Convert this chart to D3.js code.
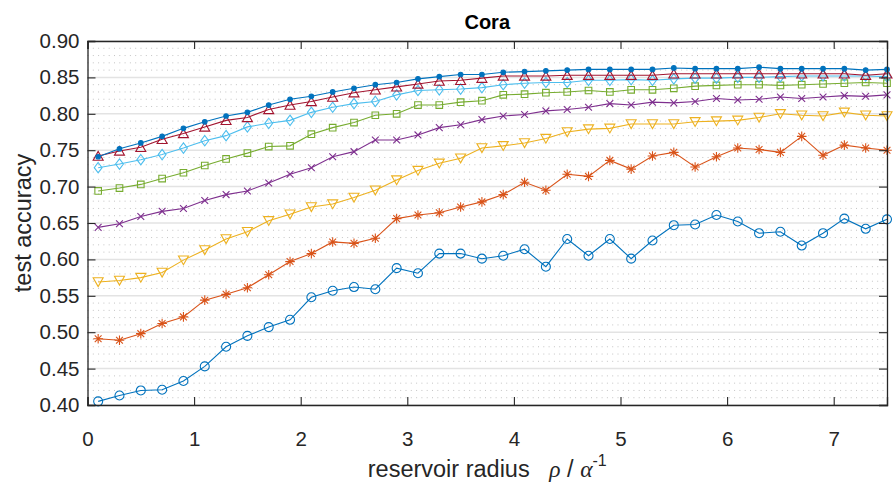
<!DOCTYPE html>
<html>
<head>
<meta charset="utf-8">
<script src="https://cdn.jsdelivr.net/npm/d3@7"></script>
<style>
  body { margin: 0; background: #fff; }
  svg { display: block; font-family: 'Liberation Sans', Arial, sans-serif; }
  .tick-label { font-size: 20.5px; fill: #262626; }
  .axis-label { font-size: 23.5px; fill: #262626; }
  .title { font-size: 20px; font-weight: bold; fill: #000; }
</style>
</head>
<body>
<svg width="895" height="485"></svg>
<script>
'use strict';

// x positions (reservoir radius)
const radius = [0.1, 0.3, 0.5, 0.7, 0.9, 1.1, 1.3, 1.5, 1.7, 1.9,
  2.1, 2.3, 2.5, 2.7, 2.9, 3.1, 3.3, 3.5, 3.7,
  3.9, 4.1, 4.3, 4.5, 4.7, 4.9, 5.1, 5.3, 5.5,
  5.7, 5.9, 6.1, 6.3, 6.5, 6.7, 6.9, 7.1, 7.3, 7.5];

const accCircle = [0.405, 0.413, 0.420, 0.421, 0.433, 0.453, 0.480, 0.495, 0.507, 0.517,
  0.548, 0.557, 0.562, 0.559, 0.588, 0.581, 0.608, 0.608, 0.601,
  0.605, 0.614, 0.590, 0.628, 0.605, 0.628, 0.601, 0.626, 0.647,
  0.648, 0.661, 0.652, 0.636, 0.638, 0.619, 0.636, 0.656, 0.642, 0.655];

const accStar = [0.491, 0.489, 0.498, 0.512, 0.521, 0.544, 0.552, 0.561, 0.579, 0.597,
  0.608, 0.624, 0.622, 0.629, 0.656, 0.661, 0.664, 0.672, 0.679,
  0.689, 0.706, 0.695, 0.717, 0.714, 0.736, 0.724, 0.742, 0.747,
  0.727, 0.741, 0.753, 0.751, 0.747, 0.769, 0.743, 0.757, 0.753, 0.750];

const accTriDown = [0.569, 0.571, 0.575, 0.582, 0.599, 0.613, 0.628, 0.638, 0.653, 0.662,
  0.672, 0.676, 0.685, 0.695, 0.709, 0.722, 0.732, 0.739, 0.753,
  0.756, 0.760, 0.766, 0.775, 0.779, 0.780, 0.786, 0.786, 0.786,
  0.789, 0.790, 0.791, 0.795, 0.800, 0.798, 0.797, 0.802, 0.798, 0.797];

const accCross = [0.644, 0.649, 0.659, 0.666, 0.670, 0.681, 0.689, 0.694, 0.705, 0.717,
  0.726, 0.741, 0.748, 0.764, 0.764, 0.771, 0.781, 0.785, 0.792,
  0.797, 0.799, 0.804, 0.806, 0.809, 0.814, 0.812, 0.816, 0.815,
  0.817, 0.821, 0.819, 0.820, 0.823, 0.821, 0.823, 0.825, 0.824, 0.826];

const accSquare = [0.694, 0.698, 0.703, 0.711, 0.719, 0.729, 0.738, 0.746, 0.755, 0.756,
  0.772, 0.781, 0.788, 0.798, 0.800, 0.812, 0.812, 0.816, 0.818,
  0.826, 0.827, 0.829, 0.830, 0.832, 0.830, 0.833, 0.833, 0.835,
  0.838, 0.839, 0.840, 0.840, 0.839, 0.840, 0.841, 0.842, 0.843, 0.842];

const accDiamond = [0.726, 0.731, 0.737, 0.744, 0.753, 0.763, 0.770, 0.782, 0.787, 0.791,
  0.802, 0.809, 0.814, 0.817, 0.826, 0.832, 0.833, 0.834, 0.836,
  0.840, 0.842, 0.843, 0.843, 0.846, 0.846, 0.847, 0.846, 0.848,
  0.849, 0.849, 0.850, 0.850, 0.851, 0.852, 0.852, 0.852, 0.852, 0.851];

const accTriUp = [0.742, 0.749, 0.754, 0.765, 0.773, 0.782, 0.791, 0.795, 0.806, 0.812,
  0.817, 0.823, 0.829, 0.833, 0.837, 0.841, 0.845, 0.846, 0.849,
  0.852, 0.852, 0.852, 0.853, 0.853, 0.853, 0.853, 0.853, 0.855,
  0.855, 0.855, 0.855, 0.855, 0.855, 0.855, 0.855, 0.855, 0.853, 0.855];

const accDot = [0.741, 0.752, 0.760, 0.769, 0.780, 0.789, 0.797, 0.802, 0.812, 0.820,
  0.824, 0.830, 0.835, 0.840, 0.843, 0.848, 0.851, 0.854, 0.854,
  0.857, 0.858, 0.859, 0.860, 0.861, 0.861, 0.861, 0.861, 0.863,
  0.862, 0.862, 0.862, 0.864, 0.862, 0.862, 0.862, 0.862, 0.860, 0.861];

const xTicks = [0, 1, 2, 3, 4, 5, 6, 7];
const yTicks = [0.40, 0.45, 0.50, 0.55, 0.60, 0.65, 0.70, 0.75, 0.80, 0.85, 0.90];

(function (d3) {

  const svg = d3.select('svg');
  const width = +svg.attr('width');
  const height = +svg.attr('height');

  const margin = { top: 41, right: 8, bottom: 80, left: 87.5 };
  const innerWidth = width - margin.left - margin.right;
  const innerHeight = height - margin.top - margin.bottom;

  const xScale = d3.scaleLinear().domain([0, 7.5]).range([0, innerWidth]);
  const yScale = d3.scaleLinear().domain([0.4, 0.9]).range([innerHeight, 0]);

  const g = svg.append('g')
    .attr('transform', `translate(${margin.left},${margin.top})`);

  // minor grid (dotted) every 0.01
  const minor = d3.range(41, 90).map(d => d / 100).filter(v => Math.round(v * 100) % 5 !== 0);
  g.append('g').selectAll('line').data(minor)
    .enter().append('line')
      .attr('x1', 0).attr('x2', innerWidth)
      .attr('y1', d => yScale(d)).attr('y2', d => yScale(d))
      .attr('stroke', '#c4c4c4')
      .attr('stroke-width', 1)
      .attr('stroke-dasharray', '1,4.3');

  // major grid
  g.append('g').selectAll('line').data(yTicks)
    .enter().append('line')
      .attr('x1', 0).attr('x2', innerWidth)
      .attr('y1', d => yScale(d)).attr('y2', d => yScale(d))
      .attr('stroke', '#e3e3e3')
      .attr('stroke-width', 1.5);

  // series
  const series = [
    { values: accCircle, color: '#0072BD', marker: 'circle' },
    { values: accStar, color: '#D95319', marker: 'star' },
    { values: accTriDown, color: '#EDB120', marker: 'triDown' },
    { values: accCross, color: '#7E2F8E', marker: 'cross' },
    { values: accSquare, color: '#77AC30', marker: 'square' },
    { values: accDiamond, color: '#4DBEEE', marker: 'diamond' },
    { values: accTriUp, color: '#A2142F', marker: 'triUp' },
    { values: accDot, color: '#0072BD', marker: 'dot' }
  ];

  const markerPath = {
    circle: 'M4.5,0A4.5,4.5,0,1,1,-4.5,0A4.5,4.5,0,1,1,4.5,0Z',
    star: 'M0,-4.8V4.8M-4.8,0H4.8M-3.4,-3.4L3.4,3.4M-3.4,3.4L3.4,-3.4',
    triDown: 'M-5,-4.2L5,-4.2L0,4.6Z',
    cross: 'M-3.4,-3.4L3.4,3.4M-3.4,3.4L3.4,-3.4',
    square: 'M-3.3,-3.3H3.3V3.3H-3.3Z',
    diamond: 'M0,-5.2L3.9,0L0,5.2L-3.9,0Z',
    triUp: 'M-5,4.2L5,4.2L0,-4.6Z',
    dot: 'M2.3,0A2.3,2.3,0,1,1,-2.3,0A2.3,2.3,0,1,1,2.3,0Z'
  };

  const line = d3.line()
    .x((d, i) => xScale(radius[i]))
    .y(d => yScale(d));

  series.forEach(s => {
    const sg = g.append('g');
    sg.append('path')
      .attr('d', line(s.values))
      .attr('fill', 'none')
      .attr('stroke', s.color)
      .attr('stroke-width', 1.1);
    sg.selectAll('path.mk').data(s.values)
      .enter().append('path')
        .attr('class', 'mk')
        .attr('transform', (d, i) => `translate(${xScale(radius[i])},${yScale(d)})`)
        .attr('d', markerPath[s.marker])
        .attr('fill', s.marker === 'dot' ? s.color : 'none')
        .attr('stroke', s.color)
        .attr('stroke-width', 1.1);
  });

  // axes box with inward ticks
  const xAxisB = d3.axisBottom(xScale).tickValues(xTicks).tickSize(-8).tickPadding(26).tickFormat(d3.format('d'));
  const xAxisT = d3.axisTop(xScale).tickValues(xTicks).tickSize(-8).tickFormat('');
  const yAxisL = d3.axisLeft(yScale).tickValues(yTicks).tickSize(-8).tickPadding(8).tickFormat(d3.format('.2f'));
  const yAxisR = d3.axisRight(yScale).tickValues(yTicks).tickSize(-8).tickFormat('');

  g.append('g').attr('transform', `translate(0,${innerHeight})`).call(xAxisB);
  g.append('g').call(xAxisT);
  g.append('g').call(yAxisL);
  g.append('g').attr('transform', `translate(${innerWidth},0)`).call(yAxisR);

  g.selectAll('.domain').attr('stroke', '#262626').attr('stroke-width', 1.3);
  g.selectAll('.tick line').attr('stroke', '#262626').attr('stroke-width', 1.1);
  g.selectAll('.tick text').attr('class', 'tick-label').attr('fill', '#262626');

  // title
  g.append('text')
    .attr('class', 'title')
    .attr('x', innerWidth / 2)
    .attr('y', -12)
    .attr('text-anchor', 'middle')
    .text('Cora');

  // y label
  g.append('text')
    .attr('class', 'axis-label')
    .attr('transform', 'rotate(-90)')
    .attr('x', -innerHeight / 2)
    .attr('y', -57)
    .attr('text-anchor', 'middle')
    .text('test accuracy');

  // x label
  const xl = g.append('text')
    .attr('class', 'axis-label')
    .attr('x', innerWidth / 2)
    .attr('y', innerHeight + 72)
    .attr('text-anchor', 'middle');
  xl.append('tspan').text('reservoir radius\u00a0\u00a0\u00a0');
  xl.append('tspan').attr('font-family', "'Liberation Serif', serif").attr('font-style', 'italic').text('\u03c1');
  xl.append('tspan').text(' / ');
  xl.append('tspan').attr('font-family', "'Liberation Serif', serif").attr('font-style', 'italic').text('\u03b1');
  xl.append('tspan').attr('dy', -11).attr('font-size', '16px').text('-1');

}(d3));
</script>
</body>
</html>
